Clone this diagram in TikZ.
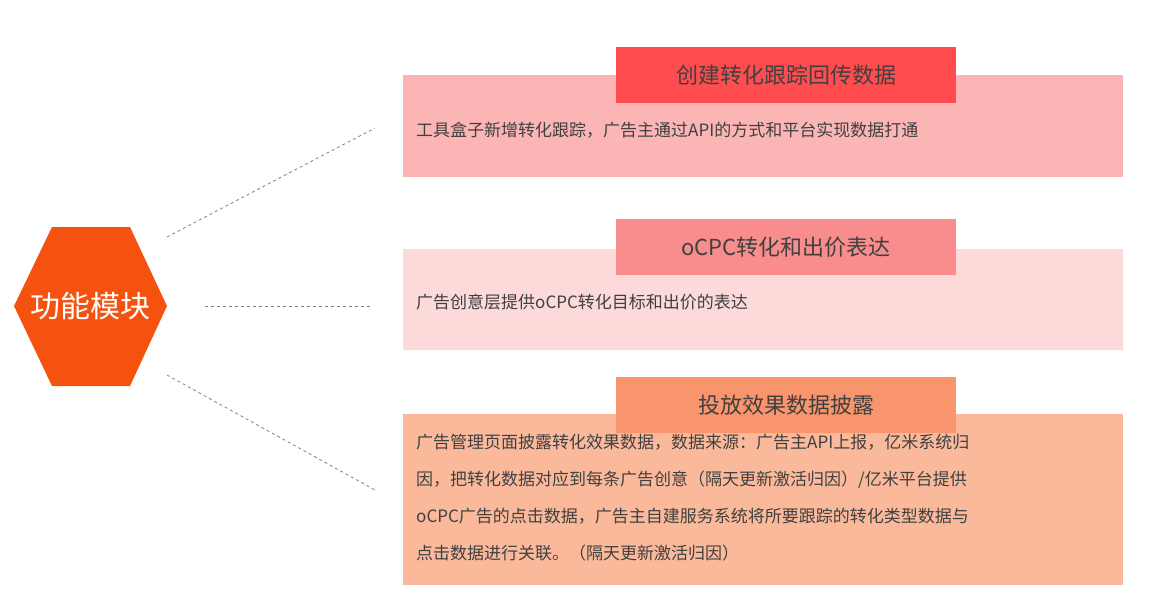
\documentclass[tikz,border=0pt]{standalone}
\usepackage{fontspec}
\setmainfont{Noto Sans CJK SC}
\usetikzlibrary{positioning}
\definecolor{hexorange}{HTML}{F5520F}
\definecolor{titleA}{HTML}{FF4D4F}
\definecolor{bodyA}{HTML}{FBB5B5}
\definecolor{titleB}{HTML}{F98C8C}
\definecolor{bodyB}{HTML}{FCDADA}
\definecolor{titleC}{HTML}{F8956C}
\definecolor{bodyC}{HTML}{FBB99B}
\definecolor{txt}{HTML}{404040}
\tikzset{
  bodybox/.style={anchor=north west, minimum width=720pt, inner sep=0pt},
  titlebox/.style={anchor=north west, minimum width=340pt, minimum height=56pt,
    inner sep=0pt, font=\fontsize{22pt}{26pt}\selectfont, text=txt},
  bodytext/.style={anchor=west, inner sep=0pt, align=left, text=txt,
    font=\fontsize{17pt}{37pt}\selectfont},
  link/.style={gray, dashed, line width=0.8pt},
}
\begin{document}
\begin{tikzpicture}[x=1pt, y=-1pt]
\useasboundingbox (0,0) rectangle (1153,600);

% hexagon
\fill[hexorange] (14,306) -- (52,227) -- (130,227) -- (167,306) -- (130,386) -- (52,386) -- cycle;
\node (hex) [text=white, font=\fontsize{30pt}{34pt}\selectfont] at (90,306) {功能模块};

% boxes
\node (bodyA) [bodybox, fill=bodyA, minimum height=102pt] at (403,75) {};
\node (titleA) [titlebox, fill=titleA] at (616,47) {创建转化跟踪回传数据};
\node (textA) [bodytext] at (416,130) {工具盒子新增转化跟踪，广告主通过API的方式和平台实现数据打通};

\node (bodyB) [bodybox, fill=bodyB, minimum height=101pt] at (403,249) {};
\node (titleB) [titlebox, fill=titleB] at (616,219) {oCPC转化和出价表达};
\node (textB) [bodytext] at (416,302) {广告创意层提供oCPC转化目标和出价的表达};

\node (bodyC) [bodybox, fill=bodyC, minimum height=171pt] at (403,414) {};
\node (titleC) [titlebox, fill=titleC] at (616,377) {投放效果数据披露};
\node (textC) [bodytext, anchor=north west] at (416,434) {广告管理页面披露转化效果数据，数据来源：广告主API上报，亿米系统归\\
因，把转化数据对应到每条广告创意（隔天更新激活归因）/亿米平台提供\\
oCPC广告的点击数据，广告主自建服务系统将所要跟踪的转化类型数据与\\
点击数据进行关联。（隔天更新激活归因）};

% links
\coordinate (endA) at (375,128);
\coordinate (endB) at (372,306);
\coordinate (endC) at (375,490);
\draw[link] (167,237) -- (endA);
\draw[link] (205,306) -- (endB);
\draw[link] (167,375) -- (endC);
\end{tikzpicture}
\end{document}
